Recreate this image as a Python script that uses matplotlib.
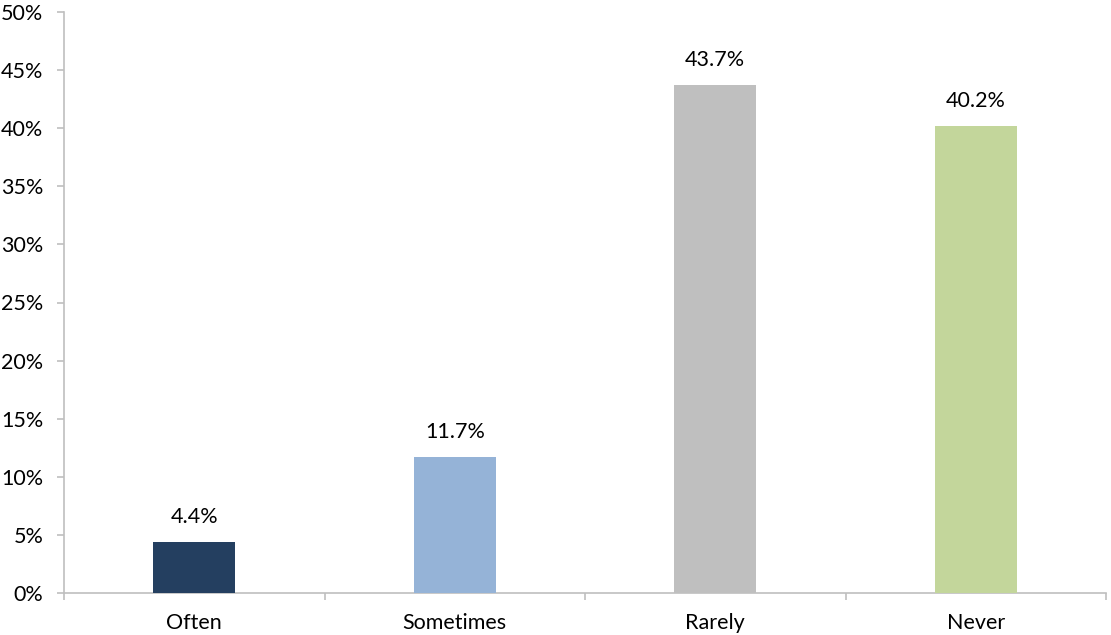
import matplotlib
matplotlib.use("Agg")
import matplotlib.pyplot as plt
from matplotlib.ticker import FuncFormatter, MultipleLocator

categories = ["Often", "Sometimes", "Rarely", "Never"]
values = [4.4, 11.7, 43.7, 40.2]
colors = ["#243F60", "#95B3D7", "#BFBFBF", "#C3D69B"]

plt.rcParams['font.family'] = ['Lato', 'DejaVu Sans']
FS = 15.5
fig = plt.figure(figsize=(11.11, 6.35), dpi=100)
ax = fig.add_axes([64/1111, 42/635, (1106-64)/1111, (593-12)/635])

x = range(len(categories))
ax.bar(x, values, width=0.315, color=colors, zorder=3)
for xi, v in zip(x, values):
    ax.text(xi, v + 1.3, f"{v:.1f}%", ha="center", va="bottom", fontsize=FS, color="#000000")

ax.set_xlim(-0.5, len(categories) - 0.5)
ax.set_ylim(0, 50)
ax.yaxis.set_major_locator(MultipleLocator(5))
ax.yaxis.set_major_formatter(FuncFormatter(lambda v, p: f"{v:.0f}%"))
ax.set_xticks(list(x))
ax.set_xticklabels(categories)
ax.set_xticks([i - 0.5 for i in range(len(categories) + 1)], minor=True)
ax.tick_params(axis='x', which='major', length=0, pad=14.5, labelsize=FS)
ax.tick_params(axis='x', which='minor', length=5, color="#BFBFBF", width=1.2)
ax.tick_params(axis='y', length=5, color="#BFBFBF", width=1.2, labelsize=FS, pad=10)

for s in ["top", "right"]:
    ax.spines[s].set_visible(False)
for s in ["left", "bottom"]:
    ax.spines[s].set_color("#BFBFBF")
    ax.spines[s].set_linewidth(1.2)

fig.savefig("out.png", dpi=100)
